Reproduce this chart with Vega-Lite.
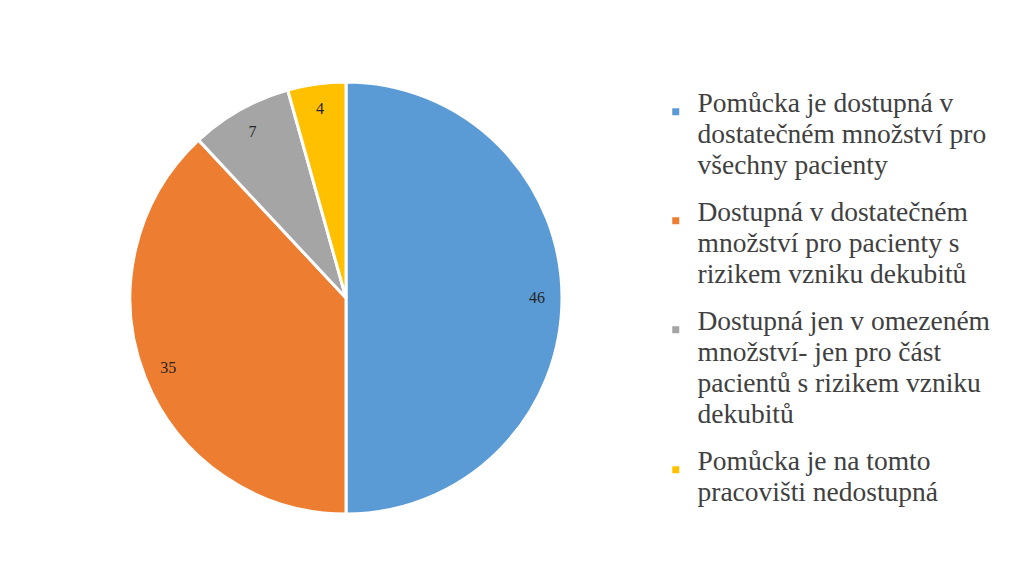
{
  "$schema": "https://vega.github.io/schema/vega-lite/v6.json",
  "width": 692,
  "height": 596,
  "padding": 0,
  "background": "white",
  "data": {
    "values": [
      {"i": 1, "kat": "Pomůcka je dostupná v|dostatečném množství pro|všechny pacienty", "pocet": 46},
      {"i": 2, "kat": "Dostupná v dostatečném|množství pro pacienty s|rizikem vzniku dekubitů", "pocet": 35},
      {"i": 3, "kat": "Dostupná jen v omezeném|množství- jen pro část|pacientů s rizikem vzniku|dekubitů", "pocet": 7},
      {"i": 4, "kat": "Pomůcka je na tomto|pracovišti nedostupná", "pocet": 4}
    ]
  },
  "encoding": {
    "theta": {"field": "pocet", "type": "quantitative", "stack": true},
    "order": {"field": "i", "type": "ordinal"}
  },
  "layer": [
    {
      "mark": {"type": "arc", "outerRadius": 216, "stroke": "white", "strokeWidth": 3},
      "encoding": {
        "color": {
          "field": "kat",
          "type": "nominal",
          "sort": {"field": "i"},
          "scale": {
            "domain": [
              "Pomůcka je dostupná v|dostatečném množství pro|všechny pacienty",
              "Dostupná v dostatečném|množství pro pacienty s|rizikem vzniku dekubitů",
              "Dostupná jen v omezeném|množství- jen pro část|pacientů s rizikem vzniku|dekubitů",
              "Pomůcka je na tomto|pracovišti nedostupná"
            ],
            "range": ["#5B9BD5", "#ED7D31", "#A5A5A5", "#FFC000"]
          },
          "legend": {
            "title": null,
            "orient": "none",
            "legendX": 662,
            "legendY": 98,
            "symbolType": "square",
            "symbolSize": 49,
            "symbolStrokeWidth": 0,
            "labelFont": "Liberation Serif",
            "labelFontSize": 27.5,
            "labelColor": "#404040",
            "labelLimit": 400,
            "labelBaseline": "alphabetic",
            "labelOffset": 8,
            "rowPadding": 18,
            "labelExpr": "split(datum.label, '|')"
          }
        }
      }
    },
    {
      "mark": {"type": "text", "radius": 191, "font": "Liberation Serif", "fontSize": 16, "color": "#262626"},
      "encoding": {
        "text": {"field": "pocet", "type": "quantitative"}
      }
    }
  ],
  "config": {
    "view": {"stroke": null},
    "style": {"guide-label": {"lineHeight": 31}}
  }
}
